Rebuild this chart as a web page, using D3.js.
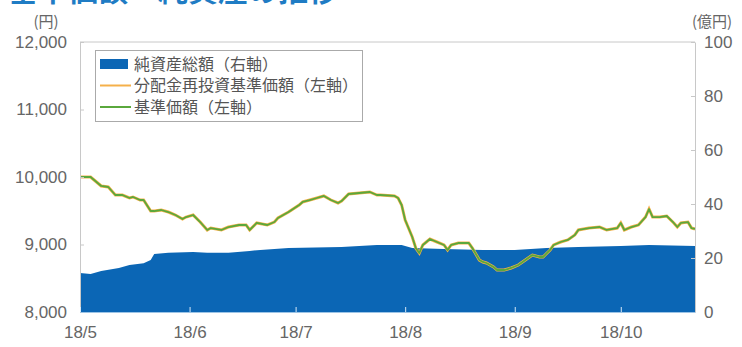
<!DOCTYPE html>
<html>
<head>
<meta charset="utf-8">
<script src="https://cdn.jsdelivr.net/npm/d3@7"></script>
<style>
  body { margin: 0; background: #fff; }
  svg { display: block; }
  .tick text { font-family: "Liberation Sans", Arial, sans-serif; }
</style>
</head>
<body>
<svg id="chart" width="742" height="347"></svg>
<script>
// ---- data ----
const navDates = [
  "2018-05-01","2018-05-04","2018-05-06","2018-05-07","2018-05-09","2018-05-11","2018-05-13","2018-05-15",
  "2018-05-16","2018-05-18","2018-05-19","2018-05-21","2018-05-22","2018-05-24","2018-05-26","2018-05-28",
  "2018-05-30","2018-05-31","2018-06-02","2018-06-04","2018-06-06","2018-06-07","2018-06-10","2018-06-12",
  "2018-06-15","2018-06-17","2018-06-18","2018-06-20","2018-06-23","2018-06-25","2018-06-26","2018-06-29",
  "2018-07-02","2018-07-03","2018-07-05","2018-07-07","2018-07-09","2018-07-11","2018-07-13","2018-07-14",
  "2018-07-16","2018-07-19","2018-07-22","2018-07-24","2018-07-25","2018-07-29","2018-07-30","2018-07-31",
  "2018-08-01","2018-08-03","2018-08-04","2018-08-05","2018-08-06","2018-08-07","2018-08-08","2018-08-10",
  "2018-08-12","2018-08-13","2018-08-14","2018-08-16","2018-08-18","2018-08-19","2018-08-20","2018-08-22",
  "2018-08-23","2018-08-24","2018-08-26","2018-08-27","2018-08-29","2018-08-31","2018-09-02","2018-09-04",
  "2018-09-06","2018-09-08","2018-09-09","2018-09-11","2018-09-12","2018-09-14","2018-09-16","2018-09-18",
  "2018-09-19","2018-09-22","2018-09-25","2018-09-27","2018-09-30","2018-10-01","2018-10-02","2018-10-04",
  "2018-10-06","2018-10-08","2018-10-09","2018-10-10","2018-10-12","2018-10-14","2018-10-16","2018-10-17",
  "2018-10-18","2018-10-20","2018-10-21","2018-10-22"
];
const navValues = [
  10000,10000,9911,9867,9852,9733,9733,9689,
  9704,9659,9659,9496,9496,9511,9481,9437,
  9378,9407,9437,9333,9215,9244,9215,9259,
  9289,9289,9215,9319,9289,9333,9393,9481,
  9585,9630,9659,9689,9719,9659,9615,9644,
  9748,9763,9778,9733,9733,9719,9689,9585,
  9363,9111,8948,8874,8993,9037,9081,9037,
  8993,8919,8993,9022,9022,9022,8948,8770,
  8741,8726,8667,8622,8622,8652,8696,8770,
  8844,8815,8815,8919,8993,9037,9067,9141,
  9215,9244,9259,9215,9244,9319,9215,9259,
  9289,9407,9526,9407,9407,9422,9319,9259,
  9319,9333,9244,9230
];
// 分配金再投資基準価額 is the same as 基準価額 here (no distributions)
const reinvValues = navValues.slice();

const assetDates = [
  "2018-05-01","2018-05-04","2018-05-07","2018-05-12","2018-05-15","2018-05-19","2018-05-21","2018-05-22",
  "2018-05-26","2018-06-02","2018-06-06","2018-06-12","2018-06-18","2018-06-21","2018-06-29","2018-07-14",
  "2018-07-24","2018-07-31","2018-08-03","2018-08-12","2018-08-23","2018-09-01","2018-09-10","2018-09-19",
  "2018-10-01","2018-10-09","2018-10-22"
];
const assetValues = [
  14.4,14.1,15.2,16.3,17.4,18.1,19.3,21.5,
  21.9,22.2,21.9,21.9,22.6,23.0,23.7,24.1,
  24.8,24.8,23.7,23.3,23.0,23.0,23.7,24.1,
  24.4,24.8,24.4
];

const leftTicks = [8000, 9000, 10000, 11000, 12000];
const rightTicks = [0, 20, 40, 60, 80, 100];
const monthTicks = ["2018-05-01","2018-06-01","2018-07-01","2018-08-01","2018-09-01","2018-10-01"];

const legendItems = [
  { label: "純資産総額（右軸）", type: "rect", color: "#0b66b5" },
  { label: "分配金再投資基準価額（左軸）", type: "line", color: "#f5b04a" },
  { label: "基準価額（左軸）", type: "line", color: "#5aa83c" }
];

// ---- layout ----
const margin = { top: 42, right: 47, bottom: 35, left: 80 },
    width = 742, height = 347;
const parse = d3.timeParse("%Y-%m-%d");

const svg = d3.select("#chart");

const x = d3.scaleTime()
    .domain([parse("2018-05-01"), parse("2018-10-22")])
    .range([margin.left, width - margin.right]);
const yL = d3.scaleLinear().domain([8000, 12000]).range([height - margin.bottom, margin.top]);
const yR = d3.scaleLinear().domain([0, 100]).range([height - margin.bottom, margin.top]);

// title (cut off at the top like the source)
svg.append("text")
    .attr("x", 8).attr("y", 1)
    .attr("font-family", "Noto Sans CJK JP")
    .attr("font-weight", "bold")
    .attr("font-size", 30)
    .attr("fill", "#1f7cc4")
    .text("基準価額・純資産の推移");

// net assets area
const assets = assetDates.map((d, i) => ({ date: parse(d), v: assetValues[i] }));
svg.append("path")
    .datum(assets)
    .attr("fill", "#0b66b5")
    .attr("d", d3.area().x(d => x(d.date)).y0(yR(0)).y1(d => yR(d.v)));

// frame
svg.append("line")
    .attr("x1", margin.left).attr("x2", width - margin.right)
    .attr("y1", margin.top).attr("y2", margin.top)
    .attr("stroke", "#c8c8c8");

// lines
const nav = navDates.map((d, i) => ({ date: parse(d), v: navValues[i] }));
const reinv = navDates.map((d, i) => ({ date: parse(d), v: reinvValues[i] }));
const line = d3.line().x(d => x(d.date)).y(d => yL(d.v));
svg.append("path").datum(reinv)
    .attr("fill", "none").attr("stroke", "#f5b04a").attr("stroke-width", 3)
    .attr("d", line);
svg.append("path").datum(nav)
    .attr("fill", "none").attr("stroke", "#5aa83c").attr("stroke-width", 1.8)
    .attr("stroke-linejoin", "round")
    .attr("d", line);

// axes
const fmt = d3.format(",");
const gL = svg.append("g")
    .attr("transform", `translate(${margin.left},0)`)
    .call(d3.axisLeft(yL).tickValues(leftTicks).tickFormat(fmt).tickSizeInner(-4).tickSizeOuter(0).tickPadding(13));
const gR = svg.append("g")
    .attr("transform", `translate(${width - margin.right},0)`)
    .call(d3.axisRight(yR).tickValues(rightTicks).tickSizeInner(-4).tickSizeOuter(0).tickPadding(9));
const gB = svg.append("g")
    .attr("transform", `translate(0,${height - margin.bottom})`)
    .call(d3.axisBottom(x).tickValues(monthTicks.map(parse)).tickFormat(d3.timeFormat("%y/%-m"))
        .tickSizeInner(-5).tickSizeOuter(0).tickPadding(14));

[gL, gR, gB].forEach(g => {
  g.select(".domain").attr("stroke", "#c8c8c8");
  g.selectAll(".tick line").attr("stroke", "#c8c8c8");
  g.selectAll(".tick text").attr("fill", "#666").attr("font-size", 17);
});
gB.select(".domain").attr("stroke", "#9cc4e6");
gB.selectAll(".tick line").attr("stroke", "#d6e8f7");

// unit labels
svg.append("text").attr("x", 46).attr("y", 27).attr("text-anchor", "middle")
    .attr("font-family", "Noto Sans CJK JP").attr("font-size", 15).attr("fill", "#666")
    .text("(円)");
svg.append("text").attr("x", 712).attr("y", 27).attr("text-anchor", "middle")
    .attr("font-family", "Noto Sans CJK JP").attr("font-size", 15).attr("fill", "#666")
    .text("(億円)");

// legend
const lg = svg.append("g");
lg.append("rect")
    .attr("x", 95.5).attr("y", 50.5).attr("width", 267).attr("height", 71)
    .attr("fill", "#fff").attr("stroke", "#aaa");
legendItems.forEach((item, i) => {
  const cy = 64 + i * 21.5;
  if (item.type === "rect") {
    lg.append("rect").attr("x", 100).attr("y", cy - 5).attr("width", 28).attr("height", 10).attr("fill", item.color);
  } else {
    lg.append("line").attr("x1", 100).attr("x2", 131).attr("y1", cy).attr("y2", cy)
        .attr("stroke", item.color).attr("stroke-width", 2);
  }
  lg.append("text")
      .attr("x", 134).attr("y", cy).attr("dy", "0.36em")
      .attr("font-family", "Noto Sans CJK JP").attr("font-size", 16).attr("fill", "#555")
      .text(item.label);
});
</script>
</body>
</html>
